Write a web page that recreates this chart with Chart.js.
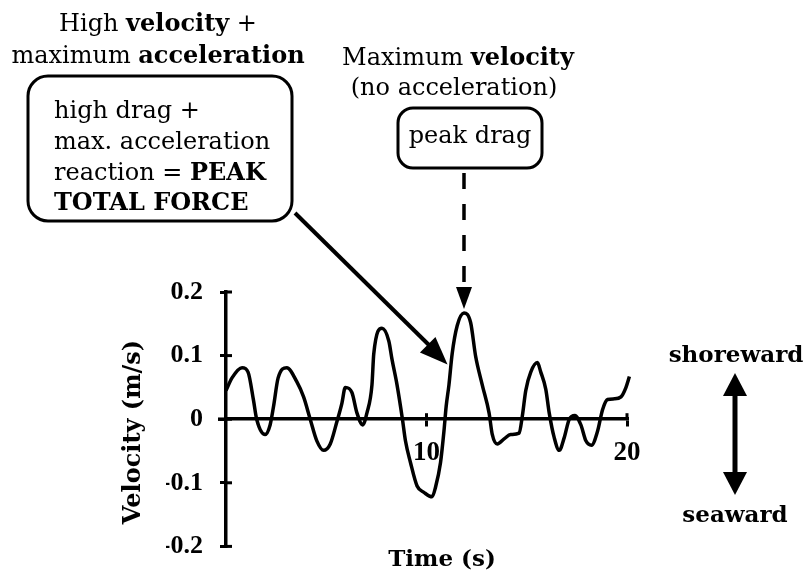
<!DOCTYPE html>
<html>
<head>
<meta charset="utf-8">
<script src="https://cdn.jsdelivr.net/npm/chart.js@4.4.1/dist/chart.umd.min.js"></script>
<style>
  html, body { margin: 0; padding: 0; background: #fff; }
  #wrap { width: 806px; height: 579px; }
</style>
</head>
<body>
<div id="wrap"><canvas id="velChart" width="806" height="579"></canvas></div>
<script>
// velocity trace
const timeSec = [
  0, 0.3, 0.8, 1.1, 1.37, 1.53, 1.95, 2.2, 2.37, 2.6, 3.03, 3.53, 3.87, 4.2, 4.53,
  4.87, 5.2, 5.53, 5.78, 5.95, 6.28, 6.53, 6.82, 7.03, 7.28, 7.37, 7.78, 8.12, 8.28,
  8.53, 8.8, 8.95, 9.2, 9.53, 9.87, 10.28, 10.45, 10.7, 10.87, 10.98, 11.12, 11.28,
  11.53, 11.87, 12.2, 12.45, 12.78, 13.12, 13.28, 13.53, 13.87, 14.2, 14.62, 14.78,
  14.95, 15.2, 15.53, 15.7, 15.95, 16.12, 16.37, 16.62, 16.87, 17.12, 17.4, 17.7,
  17.95, 18.23, 18.53, 18.78, 19.03, 19.37, 19.7, 19.95, 20.12
];
const velocity = [
  0.045, 0.065, 0.081, 0.074, 0.03, 0.0, -0.024, -0.009, 0.02, 0.065, 0.081, 0.059, 0.035, 0.0, -0.034,
  -0.049, -0.039, -0.004, 0.025, 0.05, 0.042, 0.01, -0.009, 0.01, 0.054, 0.103, 0.143, 0.123, 0.094,
  0.054, 0.0, -0.034, -0.068, -0.105, -0.115, -0.122, -0.107, -0.068, -0.019, 0.02, 0.054, 0.103,
  0.147, 0.167, 0.152, 0.099, 0.054, 0.01, -0.024, -0.039, -0.031, -0.024, -0.022, 0.005,
  0.045, 0.074, 0.089, 0.074, 0.047, 0.01, -0.029, -0.049, -0.029, 0.0, 0.006, -0.009,
  -0.034, -0.041, -0.019, 0.015, 0.031, 0.032, 0.035, 0.05, 0.067
];
const xTicks = [10, 20];
const yTicks = [-0.2, -0.1, 0, 0.1, 0.2];
const yTickLabels = ['-0.2', '-0.1', '0', '0.1', '0.2'];

// points the two callout arrows aim at
const peakDrag = { x: 11.87, y: 0.167 };
const peakForce = { x: 11.05, y: 0.086 };

const SERIF = '"DejaVu Serif", serif';
const NUMS = '"Liberation Serif", serif';
const Y_AXIS_W = 60;

function drawRuns(ctx, runs, x, y, size, align) {
    // runs: [text, bold]
    let total = 0;
    runs.forEach(([t, b]) => {
        ctx.font = (b ? 'bold ' : '') + size + 'px ' + SERIF;
        total += ctx.measureText(t).width;
    });
    let cx = align === 'left' ? x : x - total / 2;
    ctx.textAlign = 'left';
    ctx.textBaseline = 'alphabetic';
    runs.forEach(([t, b]) => {
        ctx.font = (b ? 'bold ' : '') + size + 'px ' + SERIF;
        ctx.fillText(t, cx, y);
        cx += ctx.measureText(t).width;
    });
}

function arrowHead(ctx, x1, y1, x2, y2, len, half) {
    const a = Math.atan2(y2 - y1, x2 - x1);
    ctx.beginPath();
    ctx.moveTo(x2, y2);
    ctx.lineTo(x2 - len * Math.cos(a) + half * Math.sin(a), y2 - len * Math.sin(a) - half * Math.cos(a));
    ctx.lineTo(x2 - len * Math.cos(a) - half * Math.sin(a), y2 - len * Math.sin(a) + half * Math.cos(a));
    ctx.closePath();
    ctx.fill();
}

const annotations = {
    id: 'annotations',
    afterDraw(chart) {
        const ctx = chart.ctx;
        const xs = chart.scales.x, ys = chart.scales.y;
        ctx.save();
        ctx.fillStyle = '#000';
        ctx.strokeStyle = '#000';

        // inner half of the tick marks so they cross the axes, plus the short
        // stub of the time axis left of the velocity axis
        ctx.lineWidth = 3;
        const x0 = xs.getPixelForValue(0), y0 = ys.getPixelForValue(0);
        yTicks.forEach(v => {
            const py = ys.getPixelForValue(v);
            ctx.beginPath(); ctx.moveTo(x0, py); ctx.lineTo(x0 + 6, py); ctx.stroke();
        });
        xTicks.forEach(v => {
            const px = xs.getPixelForValue(v);
            ctx.beginPath(); ctx.moveTo(px, y0); ctx.lineTo(px, y0 - 6); ctx.stroke();
        });
        ctx.lineWidth = 3.5;
        ctx.beginPath(); ctx.moveTo(xs.getPixelForValue(-0.4), y0); ctx.lineTo(x0, y0); ctx.stroke();

        // left callout
        drawRuns(ctx, [['High ', false], ['velocity', true], [' +', false]], 158, 31, 24);
        drawRuns(ctx, [['maximum ', false], ['acceleration', true]], 158, 63, 24);
        ctx.lineWidth = 3;
        ctx.beginPath(); ctx.roundRect(28, 76, 264, 145, 20); ctx.stroke();
        drawRuns(ctx, [['high drag +', false]], 54, 118, 24, 'left');
        drawRuns(ctx, [['max. acceleration', false]], 54, 149, 24, 'left');
        drawRuns(ctx, [['reaction = ', false], ['PEAK', true]], 54, 180, 24, 'left');
        drawRuns(ctx, [['TOTAL FORCE', true]], 54, 210, 24, 'left');

        const fx = xs.getPixelForValue(peakForce.x), fy = ys.getPixelForValue(peakForce.y);
        ctx.lineWidth = 4;
        ctx.beginPath(); ctx.moveTo(295, 213); ctx.lineTo(fx - 12, fy - 13); ctx.stroke();
        arrowHead(ctx, 295, 213, fx, fy, 28, 11);

        // right callout
        drawRuns(ctx, [['Maximum ', false], ['velocity', true]], 458, 65, 24);
        drawRuns(ctx, [['(no acceleration)', false]], 454, 95, 24);
        ctx.lineWidth = 3;
        ctx.beginPath(); ctx.roundRect(398, 108, 144, 60, 15); ctx.stroke();
        drawRuns(ctx, [['peak drag', false]], 470, 143, 24);

        const dx = xs.getPixelForValue(peakDrag.x), dy = ys.getPixelForValue(peakDrag.y) - 4;
        ctx.lineWidth = 3.5;
        ctx.setLineDash([16, 15]);
        ctx.beginPath(); ctx.moveTo(dx, 173); ctx.lineTo(dx, dy - 18); ctx.stroke();
        ctx.setLineDash([]);
        arrowHead(ctx, dx, 173, dx, dy, 22, 8);

        // direction key
        drawRuns(ctx, [['shoreward', true]], 736, 362, 23);
        drawRuns(ctx, [['seaward', true]], 735, 522, 23);
        ctx.lineWidth = 5;
        ctx.beginPath(); ctx.moveTo(735, 390); ctx.lineTo(735, 478); ctx.stroke();
        arrowHead(ctx, 735, 434, 735, 373, 23, 12);
        arrowHead(ctx, 735, 434, 735, 495, 23, 12);

        // axis titles
        drawRuns(ctx, [['Time (s)', true]], 442, 566, 23);
        ctx.translate(140, 432);
        ctx.rotate(-Math.PI / 2);
        drawRuns(ctx, [['Velocity (m/s)', true]], 0, 0, 24);
        ctx.restore();
    }
};

new Chart(document.getElementById('velChart'), {
    type: 'line',
    data: {
        datasets: [{
            data: timeSec.map((t, i) => ({ x: t, y: velocity[i] })),
            borderColor: '#000',
            borderWidth: 3.5,
            pointRadius: 0,
            cubicInterpolationMode: 'monotone',
            clip: false
        }]
    },
    options: {
        responsive: false,
        animation: false,
        layout: { padding: { left: 226 - Y_AXIS_W, right: 179, top: 292, bottom: 16 } },
        plugins: { legend: { display: false }, tooltip: { enabled: false } },
        scales: {
            x: {
                type: 'linear',
                min: 0,
                max: 20,
                position: { y: 0 },
                afterBuildTicks: s => { s.ticks = xTicks.map(v => ({ value: v })); },
                grid: { drawOnChartArea: false, color: '#000', tickLength: 6, lineWidth: 3 },
                border: { color: '#000', width: 3.5 },
                ticks: {
                    color: '#000',
                    padding: 12,
                    maxRotation: 0,
                    font: { family: NUMS, size: 27, weight: 'bold' },
                    callback: v => String(v)
                }
            },
            y: {
                type: 'linear',
                min: -0.2,
                max: 0.2,
                position: 'left',
                afterFit: s => { s.width = Y_AXIS_W; },
                afterBuildTicks: s => { s.ticks = yTicks.map(v => ({ value: v })); },
                grid: { drawOnChartArea: false, color: '#000', tickLength: 6, lineWidth: 3 },
                border: { color: '#000', width: 3.5 },
                ticks: {
                    color: '#000',
                    padding: 17,
                    font: { family: NUMS, size: 26, weight: 'bold' },
                    callback: v => yTickLabels[yTicks.findIndex(t => Math.abs(t - v) < 1e-9)]
                }
            }
        }
    },
    plugins: [annotations]
});
</script>
</body>
</html>
